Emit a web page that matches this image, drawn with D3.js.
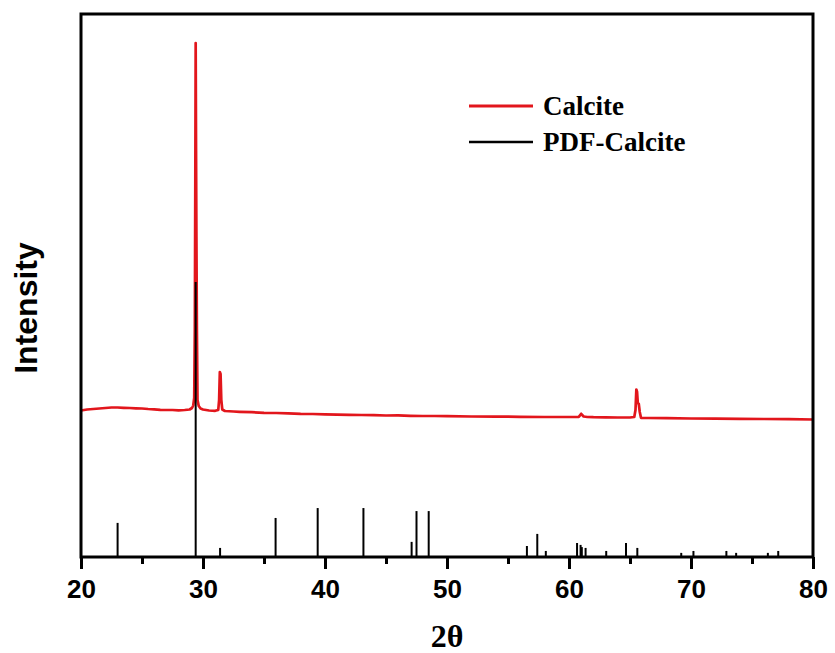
<!DOCTYPE html>
<html>
<head>
<meta charset="utf-8">
<script src="https://cdn.jsdelivr.net/npm/d3@7"></script>
<style>
  body { margin: 0; background: #ffffff; }
  svg { display: block; }
</style>
</head>
<body>
<svg id="xrd" width="835" height="653"></svg>
<script>
let obsTheta = [20.0, 20.5, 21.0, 21.5, 22.0, 22.5, 23.0, 23.5, 24.0, 24.5, 25.0, 25.5, 26.0, 26.5, 27.0, 27.5, 28.0, 28.5, 28.9,
    29.1, 29.2, 29.28, 29.33, 29.37, 29.40, 29.43, 29.46, 29.5, 29.55, 29.65, 29.8, 30.0, 30.5, 31.0,
    31.25, 31.32, 31.38, 31.44, 31.5, 31.58, 31.8, 32.5, 33.0, 34.0, 35.0, 36.0, 37.0, 38.0, 39.0, 40.0,
    41.0, 42.0, 43.0, 44.0, 45.0, 46.0, 47.0, 48.0, 49.0, 50.0, 52.0, 54.0, 56.0, 58.0, 60.0,
    60.8, 61.0, 61.2, 61.5, 62.0, 63.0, 64.0, 65.0, 65.35, 65.45, 65.52, 65.58, 65.64, 65.72, 65.8, 65.9,
    66.5, 68.0, 70.0, 72.0, 74.0, 76.0, 78.0, 80.0];
let obsCounts = [1465, 1475, 1480, 1485, 1490, 1495, 1495, 1492, 1490, 1487, 1485, 1480, 1477, 1472, 1470, 1470, 1467, 1470, 1475,
    1490, 1515, 1590, 2270, 3770, 5140, 4070, 3200, 2270, 1570, 1510, 1485, 1475, 1465, 1462,
    1470, 1570, 1850, 1830, 1570, 1475, 1460, 1455, 1452, 1448, 1442, 1440, 1437, 1432, 1430, 1427,
    1424, 1422, 1420, 1418, 1415, 1416, 1412, 1410, 1410, 1408, 1405, 1404, 1402, 1400, 1400,
    1402, 1432, 1405, 1400, 1398, 1397, 1395, 1395, 1400, 1470, 1675, 1650, 1540, 1530, 1450, 1392,
    1390, 1388, 1385, 1384, 1382, 1380, 1378, 1375];

/* reference card sticks (2theta, relative intensity) */
let pdfTheta = [23.0, 29.4, 31.4, 35.95, 39.4, 43.15, 47.1, 47.5, 48.5, 56.55, 57.4, 58.1, 60.66, 60.95, 61.05, 61.36,
    63.05, 64.67, 65.6, 69.2, 70.2, 72.9, 73.7, 76.3, 77.15];
let pdfIntensity = [12.4, 100, 3.3, 14.2, 17.8, 17.8, 5.5, 16.7, 16.7, 4.0, 8.4, 2.2, 5.1, 4.4, 3.6, 3.3,
    2.2, 5.1, 3.3, 1.5, 2.2, 2.2, 1.5, 1.5, 2.2];

let majorTicks = [20, 30, 40, 50, 60, 70, 80];
let minorTicks = [25, 35, 45, 55, 65, 75];
let legendNames = ["Calcite", "PDF-Calcite"];
let legendColors = ["#e2161c", "#000000"];

let svgWidth = 835, svgHeight = 653;
let padding = { top: 14, bottom: 96, left: 81, right: 22 };

let svg = d3.select("svg#xrd");

let xScale = d3.scaleLinear()
    .domain([20, 80])
    .range([padding.left, svgWidth - padding.right]);

let yObsScale = d3.scaleLinear()
    .domain([0, 5430])
    .range([svgHeight - padding.bottom, padding.top]);

// sticks drawn on their own scale, 100 % reaches about half the frame
let yRefScale = d3.scaleLinear()
    .domain([0, 100])
    .range([svgHeight - padding.bottom, 282]);

let plotBottom = svgHeight - padding.bottom;

/* measured curve */
let obsLine = d3.line()
    .x(d => xScale(d[0]))
    .y(d => yObsScale(d[1]));

svg.append("path")
    .datum(obsTheta.map((t, i) => [t, obsCounts[i]]))
    .attr("d", obsLine)
    .attr("fill", "none")
    .attr("stroke", legendColors[0])
    .attr("stroke-width", 2.7)
    .attr("stroke-linejoin", "round");

/* PDF sticks */
svg.append("g")
    .selectAll("line")
    .data(pdfTheta.map((t, i) => [t, pdfIntensity[i]]))
    .join("line")
    .attr("x1", d => xScale(d[0]))
    .attr("x2", d => xScale(d[0]))
    .attr("y1", yRefScale(0))
    .attr("y2", d => yRefScale(d[1]))
    .attr("stroke", "#000")
    .attr("stroke-width", 2);

/* axes */
let xAxis = d3.axisBottom(xScale)
    .tickValues(majorTicks)
    .tickSize(12)
    .tickFormat(d3.format("d"));
let xAxisMinor = d3.axisBottom(xScale)
    .tickValues(minorTicks)
    .tickSize(7)
    .tickFormat("");

let xAxisG = svg.append("g")
    .attr("transform", "translate(0," + plotBottom + ")")
    .call(xAxis);
let xAxisMinorG = svg.append("g")
    .attr("transform", "translate(0," + plotBottom + ")")
    .call(xAxisMinor);

svg.selectAll("path.domain").remove();
svg.selectAll(".tick line").attr("stroke", "#000").attr("stroke-width", 3);
xAxisG.selectAll(".tick text")
    .attr("y", 23)
    .attr("fill", "#000")
    .style("font-family", "'Liberation Sans', Arial, sans-serif")
    .style("font-weight", "bold")
    .style("font-size", "26px");

/* frame */
svg.append("rect")
    .attr("x", xScale.range()[0])
    .attr("y", padding.top)
    .attr("width", xScale.range()[1] - xScale.range()[0])
    .attr("height", plotBottom - padding.top)
    .attr("fill", "none")
    .attr("stroke", "#000")
    .attr("stroke-width", 3);

/* axis labels */
svg.append("text")
    .attr("transform", "translate(" + (xScale(20) + xScale(80)) / 2 + ",647)")
    .style("text-anchor", "middle")
    .style("font-family", "'Liberation Serif', 'Times New Roman', serif")
    .style("font-weight", "bold")
    .style("font-size", "32px")
    .text("2θ");

svg.append("text")
    .attr("transform", "translate(37,308)rotate(-90)")
    .style("text-anchor", "middle")
    .style("font-family", "'Liberation Sans', Arial, sans-serif")
    .style("font-weight", "bold")
    .style("font-size", "32px")
    .text("Intensity");

/* legend */
let legend = svg.append("g").attr("transform", "translate(469,106)");
legendNames.forEach((name, i) => {
    let item = legend.append("g").attr("transform", "translate(0," + (i * 36) + ")");
    item.append("line")
        .attr("x1", 0).attr("x2", 64)
        .attr("stroke", legendColors[i])
        .attr("stroke-width", i == 0 ? 3 : 2.5);
    item.append("text")
        .attr("x", 74)
        .attr("y", 9)
        .style("font-family", "'Liberation Serif', 'Times New Roman', serif")
        .style("font-weight", "bold")
        .style("font-size", "27px")
        .text(name);
});
</script>
</body>
</html>
